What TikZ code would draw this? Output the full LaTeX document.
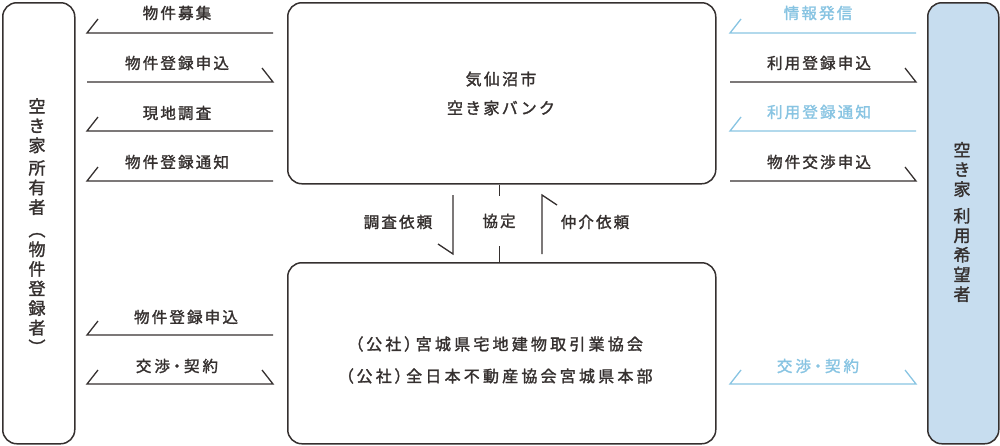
\documentclass[tikz,border=0pt]{standalone}
\usepackage{fontspec}
\setmainfont{Noto Sans CJK JP}
\newfontfamily\jp[LetterSpace=14, FakeBold=1.7]{Noto Sans CJK JP}
\newfontfamily\jpp[LetterSpace=20, FakeBold=1.7, RawFeature=+palt]{Noto Sans CJK JP}
\newfontfamily\jpv[FakeBold=1.7]{Noto Sans CJK JP}
\usetikzlibrary{calc}
\definecolor{dk}{HTML}{35302F}
\definecolor{bl}{HTML}{88C4E2}
\definecolor{bf}{HTML}{C7DDEF}
\tikzset{
  box/.style={draw=dk, line width=1.5pt, rounded corners=14pt, inner sep=0pt, anchor=north west},
  lbl/.style={font=\jp\fontsize{15.5}{18}\selectfont, text=dk, inner sep=0pt},
  plbl/.style={font=\jpp\fontsize{15.5}{18}\selectfont, text=dk, inner sep=0pt},
  bllbl/.style={lbl, text=bl},
  boxlbl/.style={font=\jp\fontsize{16}{19}\selectfont, text=dk, inner sep=0pt},
  pboxlbl/.style={font=\jpp\fontsize{16}{19}\selectfont, text=dk, inner sep=0pt},
  vlbl/.style={font=\jpv\fontsize{17}{19.6}\selectfont, text=dk, inner sep=0pt, align=center},
  dkline/.style={draw=dk, line width=1.3pt},
  blline/.style={draw=bl, line width=1.3pt},
}
\begin{document}
\begin{tikzpicture}[x=1pt,y=-1pt]
\useasboundingbox (0,0) rectangle (1000,445);
% boxes
\node[box, minimum width=72pt, minimum height=441pt] (L) at (2,2) {};
\node[box, minimum width=428pt, minimum height=181pt] (T) at (287,2) {};
\node[box, minimum width=428pt, minimum height=181pt] (B) at (287,262) {};
\node[box, fill=bf, minimum width=71pt, minimum height=441pt] (R) at (927,2) {};
% vertical texts
\node[vlbl] (Ltxt) at (37,226) {空\\き\\家\\[3pt]所\\有\\者\\[3pt]︵\\物\\件\\登\\録\\者\\︶};
\node[vlbl] (Rtxt) at (962,222) {空\\き\\家\\[7pt]利\\用\\希\\望\\者};
% centre texts
\node[boxlbl] (T1) at (501,79) {気仙沼市};
\node[boxlbl] (T2) at (501,108) {空き家バンク};
\node[pboxlbl] (B1) at (499,344) {（公社）宮城県宅地建物取引業協会};
\node[pboxlbl] (B2) at (499,376) {（公社）全日本不動産協会宮城県本部};
% left column arrows
\coordinate (la1) at (87,33);  \coordinate (lb1) at (273,33);
\coordinate (la2) at (87,82);  \coordinate (lb2) at (273,82);
\coordinate (la3) at (87,131); \coordinate (lb3) at (273,131);
\coordinate (la4) at (87,181); \coordinate (lb4) at (273,181);
\coordinate (la5) at (87,335); \coordinate (lb5) at (273,335);
\coordinate (la6) at (87,384); \coordinate (lb6) at (273,384);
\draw[dkline] (la1) ++(11,-14) -- (la1) -- (lb1);
\draw[dkline] (la2) -- (lb2) -- ++(-11,-14);
\draw[dkline] (la3) ++(11,-14) -- (la3) -- (lb3);
\draw[dkline] (la4) ++(11,-14) -- (la4) -- (lb4);
\draw[dkline] (la5) ++(11,-14) -- (la5) -- (lb5);
\draw[dkline] (la6) ++(11,-14) -- (la6) -- (lb6) -- ++(-11,-14);
\node[lbl] (l1) at (177,13) {物件募集};
\node[lbl] (l2) at (177,63) {物件登録申込};
\node[lbl] (l3) at (177,113) {現地調査};
\node[lbl] (l4) at (177,162) {物件登録通知};
\node[lbl] (l5) at (186,317) {物件登録申込};
\node[plbl] (l6) at (177,366) {交渉・契約};
% right column arrows
\coordinate (ra1) at (730,33);  \coordinate (rb1) at (916,33);
\coordinate (ra2) at (730,82);  \coordinate (rb2) at (916,82);
\coordinate (ra3) at (730,131); \coordinate (rb3) at (916,131);
\coordinate (ra4) at (730,181); \coordinate (rb4) at (916,181);
\coordinate (ra6) at (730,384); \coordinate (rb6) at (916,384);
\draw[blline] (ra1) ++(11,-14) -- (ra1) -- (rb1);
\draw[dkline] (ra2) -- (rb2) -- ++(-11,-14);
\draw[blline] (ra3) ++(11,-14) -- (ra3) -- (rb3);
\draw[dkline] (ra4) -- (rb4) -- ++(-11,-14);
\draw[blline] (ra6) ++(11,-14) -- (ra6) -- (rb6) -- ++(-11,-14);
\node[bllbl] (r1) at (818,13) {情報発信};
\node[lbl] (r2) at (819,63) {利用登録申込};
\node[bllbl] (r3) at (819,112) {利用登録通知};
\node[lbl] (r4) at (819,162) {物件交渉申込};
\node[plbl, text=bl] (r6) at (818,366) {交渉・契約};
% middle
\coordinate (m1t) at (453,195); \coordinate (m1b) at (453,254);
\coordinate (m3t) at (542,195); \coordinate (m3b) at (542,254);
\draw[dkline] (m1t) -- (m1b) -- ++(-15,-10);
\draw[dkline] (m3b) -- (m3t) -- ++(15,10);
\draw[dkline] ([xshift=-2pt]T.south) -- ([xshift=-2pt]B.north);
\node[lbl, fill=white, minimum height=50pt, inner xsep=3pt] (kt) at (499,221) {協定};
\node[lbl] (m1) at (398,222) {調査依頼};
\node[lbl] (m3) at (595,222) {仲介依頼};
\end{tikzpicture}
\end{document}
